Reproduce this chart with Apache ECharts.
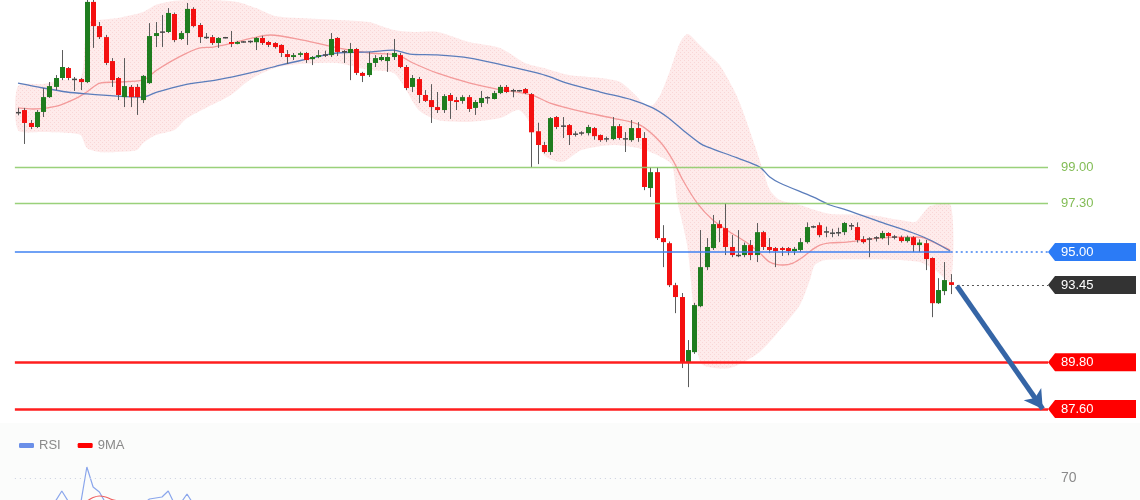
<!DOCTYPE html>
<html><head><meta charset="utf-8">
<script src="https://cdn.jsdelivr.net/npm/echarts@6/dist/echarts.min.js"></script>
<style>html,body{margin:0;padding:0;background:#fff}#c{width:1140px;height:500px}</style>
</head><body><div id="c"></div>
<script>
// candles: [open, close, low, high]
const ohlc = [
[101.60,101.55,101.45,101.80],[101.70,101.09,100.10,101.80],[101.09,100.90,100.80,101.23],[100.90,101.61,100.85,101.70],[101.61,102.31,101.37,102.74],
[102.31,102.83,102.27,103.02],[102.79,103.21,102.64,103.35],[103.21,103.73,103.11,104.53],[103.68,103.21,103.11,103.73],[103.17,103.12,102.60,103.26],
[103.16,103.02,102.64,103.21],[103.02,106.80,102.97,107.20],[106.80,105.66,104.63,107.10],[105.66,105.14,105.05,105.85],[105.14,103.92,103.82,105.24],
[104.01,103.11,102.79,104.15],[103.21,102.41,102.17,103.26],[102.31,102.83,101.84,104.15],[102.79,102.31,101.84,102.88],[102.79,102.31,101.47,102.92],
[102.17,103.31,102.03,103.35],[102.97,105.19,102.93,105.80],[105.19,105.33,104.67,105.85],[105.35,105.40,104.67,106.18],[105.38,106.28,105.33,106.51],
[106.23,105.00,104.90,106.30],[105.05,105.33,105.00,105.43],[105.33,106.47,104.77,106.75],[106.47,105.66,105.60,106.55],[105.71,105.14,104.86,105.80],
[105.14,105.10,105.05,105.33],[105.14,104.86,104.77,105.24],[104.86,105.10,104.63,105.14],[105.10,105.12,105.08,105.15],[104.91,104.82,104.67,105.43],
[104.82,104.91,104.80,104.96],[104.90,104.92,104.88,104.95],[104.92,104.94,104.85,104.98],[104.90,105.10,104.53,105.14],[105.10,104.86,104.77,105.20],
[104.91,104.77,104.67,104.96],[104.86,104.67,104.60,104.90],[104.77,104.39,104.20,104.80],[104.34,104.20,103.87,104.53],[104.20,104.29,104.06,104.39],
[104.30,104.38,104.20,104.45],[104.39,104.06,103.92,104.44],[104.10,104.20,103.82,104.25],[104.20,104.29,104.15,104.53],[104.29,104.30,104.20,104.50],
[104.29,105.05,104.20,105.33],[105.10,104.44,104.25,105.14],[104.44,104.46,103.92,104.53],[104.39,104.58,103.11,104.86],[104.58,103.45,103.35,104.63],
[103.45,103.31,103.02,103.50],[103.35,103.92,103.26,104.44],[103.92,104.15,103.73,104.29],[104.06,104.20,104.00,104.30],[104.01,104.20,103.50,104.39],
[104.20,104.39,104.06,105.05],[104.29,103.73,103.68,104.39],[103.73,102.74,102.64,103.82],[102.79,103.21,102.55,103.35],[103.16,102.41,102.03,103.26],
[102.41,102.13,102.08,102.64],[102.17,101.84,101.09,102.92],[101.84,101.70,101.56,102.55],[101.70,102.36,101.56,102.45],[102.41,102.13,101.28,102.50],
[102.17,102.08,101.70,102.31],[102.13,102.31,102.00,102.40],[102.31,101.75,101.61,102.41],[101.80,102.08,101.47,102.17],[102.03,102.27,101.84,102.60],
[102.27,102.29,102.00,102.35],[102.22,102.50,102.20,102.60],[102.50,102.79,102.45,102.88],[102.79,102.55,102.50,102.88],[102.60,102.62,102.30,102.70],
[102.60,102.62,102.57,102.65],[102.69,102.50,102.45,102.74],[102.45,100.65,99.00,102.50],[100.70,100.05,99.15,101.10],[100.05,99.72,99.65,100.20],
[99.72,101.32,99.58,101.37],[101.37,100.90,100.80,101.42],[100.95,100.93,100.38,101.37],[100.99,100.52,100.05,101.04],[100.57,100.55,100.45,100.70],
[100.60,100.63,100.50,100.70],[100.61,100.90,100.50,101.00],[100.85,100.47,100.30,100.90],[100.52,100.28,100.20,100.55],[100.35,100.33,100.20,100.45],
[100.33,100.94,100.28,101.37],[100.94,100.38,100.30,101.04],[100.35,100.33,99.72,100.66],[100.28,100.85,100.20,101.23],[100.85,100.38,100.20,101.13],
[100.38,98.07,97.92,100.66],[98.02,98.77,97.60,99.00],[98.77,95.66,95.57,99.00],[95.66,95.47,94.29,96.27],[95.42,93.44,93.35,95.50],
[93.44,92.88,92.12,93.55],[92.88,89.81,89.53,93.07],[89.81,90.38,88.63,90.85],[90.28,92.50,90.20,92.60],[92.45,94.29,92.40,96.04],
[94.29,95.24,94.15,95.66],[95.19,96.32,95.10,96.75],[96.32,96.13,95.47,96.50],[96.13,95.24,94.86,97.30],[95.24,94.86,94.76,95.80],
[94.86,94.82,94.76,96.04],[94.86,95.33,94.76,95.45],[95.33,94.86,94.62,95.57],[94.86,95.94,94.53,96.37],[95.94,95.24,95.10,96.00],
[95.24,95.10,94.95,95.66],[95.19,95.05,94.29,95.24],[95.19,95.10,94.82,95.25],[95.19,95.05,94.85,95.24],[95.05,95.15,94.86,95.24],
[95.10,95.47,95.00,95.66],[95.47,96.18,95.40,96.40],[96.18,96.20,96.13,96.25],[96.27,95.80,95.70,96.40],[95.96,95.94,95.70,96.20],
[95.90,95.88,95.70,96.10],[95.90,95.92,95.75,96.15],[95.94,96.37,95.80,96.42],[96.23,96.25,96.04,96.37],[96.18,95.57,95.45,96.40],
[95.61,95.47,95.40,95.75],[95.60,95.63,94.76,95.70],[95.66,95.68,95.50,95.75],[95.66,95.90,95.60,96.00],[95.90,95.75,95.33,95.94],
[95.70,95.72,95.60,95.80],[95.70,95.52,95.45,95.78],[95.52,95.70,95.45,95.78],[95.70,95.33,95.00,95.75],[95.33,95.45,95.00,95.60],
[95.42,94.67,94.15,95.57],[94.72,92.59,91.93,94.75],[92.59,93.21,92.55,93.77],[93.16,93.68,92.97,94.53],[93.58,93.45,93.02,93.96]
];

// Bollinger band edges and averages: [candle index, price]
const upperBand = [[0,102.83],[4,102.93],[7,103.12],[10,103.21],[10.7,105.0],[11,105.85],[13,105.95],[16,106.04],[20,106.32],[22,106.65],[25,106.85],[30,106.89],[35,106.80],[38,106.51],[41,106.14],[45,106.04],[51,105.95],[56,105.85],[60,105.47],[63,105.38],[67,105.38],[72,104.91],[77,104.63],[81,103.92],[84,103.68],[88,103.35],[93,103.21],[96.2,103.02],[98.6,102.41],[100.2,101.94],[101.4,101.94],[102.6,102.41],[104.2,103.59],[105.8,104.91],[107,105.29],[108.9,104.77],[110.5,104.30],[112.1,103.82],[114.9,102.31],[117.4,100.29],[119,98.87],[120.1,97.93],[121.7,97.46],[124.9,97.22],[127.3,96.98],[129.7,96.80],[136,96.75],[140.9,96.51],[143.3,96.42],[144.4,96.75],[145.7,97.17],[149,97.22]];
const lowerBand = [[0,100.76],[4,100.66],[8,100.62],[10,100.52],[11,99.91],[13,99.72],[16,99.72],[19,99.81],[20,100.14],[22,100.52],[25,100.76],[27,101.32],[30,101.80],[34,102.41],[37,103.12],[41,103.68],[45,103.87],[51,103.92],[56,103.59],[60,103.45],[62,102.64],[64,101.70],[67,101.23],[72,101.14],[77,101.32],[80,101.70],[82,100.99],[84,99.58],[87,99.25],[90,99.81],[95,100.05],[99,99.91],[101,99.72],[103,99.44],[104.5,99.11],[105.3,97.46],[106.9,95.33],[107.7,92.97],[108.5,90.38],[109.4,89.67],[113.7,89.53],[118.5,90.29],[121.7,91.32],[124.9,92.50],[126.5,93.68],[127.3,94.39],[129,94.63],[140,94.63],[144,94.53],[146.5,94.15],[149,93.59]];
const midLine = [[0,101.80],[2.4,101.75],[6.2,101.89],[9.4,102.27],[11,102.55],[13.1,102.97],[15.8,103.02],[20,103.12],[22.2,103.59],[25.4,104.15],[29.1,104.63],[31.2,104.67],[34.3,104.86],[37.5,105.10],[40.3,105.24],[45.5,105.00],[51,104.63],[56.2,104.39],[60.5,104.30],[63.1,103.92],[66.9,103.45],[72.2,102.97],[76.5,102.69],[82,102.41],[85,102.03],[90.3,101.61],[95,101.32],[99.4,100.99],[102.6,100.19],[104.6,99.34],[106.2,98.40],[108.5,97.31],[111,96.51],[113.7,95.95],[116.5,95.43],[118.5,94.96],[120.1,94.53],[122.2,94.39],[123.8,94.48],[125.4,94.77],[127,95.14],[128.1,95.33],[129.7,95.43],[132.4,95.47],[135,95.57],[137.7,95.66],[140.4,95.71],[144.1,95.71],[146.2,95.47],[148.9,95.10]];
const slowLine = [[0,102.97],[4,102.74],[7.8,102.55],[11,102.46],[15.8,102.36],[20,102.31],[22.2,102.55],[26.4,102.88],[31.8,103.12],[37.1,103.45],[41.9,103.82],[45.5,104.06],[51,104.39],[56.2,104.44],[59.9,104.53],[62.6,104.34],[66.9,104.30],[72.2,104.15],[77.5,103.82],[82.9,103.45],[85,103.26],[87.7,102.97],[93,102.55],[98.2,102.17],[101.4,101.80],[103.7,101.37],[106.2,100.76],[108.9,100.14],[110.1,99.96],[114.9,99.44],[118.5,99.01],[120.1,98.54],[121.7,98.26],[127,97.60],[129.7,97.22],[132.4,96.98],[137.7,96.42],[143,95.90],[145.7,95.57],[148.9,95.05]];

// RSI panel
const rsi = [45,38,36,42,46,47,47,57,47,45,44,81,61,56,45,42,38,41,39,39,44,49,50,51,57,44,45,54,44,42,
42,41,43,43,41,42,42,42,44,42,41,40,38,37,38,38,36,37,38,38,45,40,40,41,34,33,39,41,41,42,
43,38,32,36,32,31,30,29,34,33,33,35,31,34,36,36,38,40,38,38,38,37,27,25,24,34,32,32,30,30,
31,33,30,29,29,34,31,31,35,32,23,27,18,18,14,13,10,16,25,33,38,43,42,38,36,36,39,36,42,39,
38,38,38,37,38,40,45,45,42,42,42,42,45,45,40,39,39,40,41,40,40,39,40,37,38,33,24,28,32,31];
const rsiMa = [45,44,43,42,42,42,42,43,44,44,45,47,50.5,52,51,48.5,47,46,46,45,44,44,45,46,47,47,46,46,46,45,
44,44,43,43,43,42,42,42,42,42,42,42,41,41,40,40,39,39,38,38,39,39,39,39,39,38,38,38,39,39,
40,40,39,38,37,36,35,34,33,33,33,33,33,33,33,34,35,35,36,37,37,36,35,34,33,32,32,31,31,31,
31,31,31,31,31,31,31,31,32,32,31,30,28,26,24,22,19,17,17,18,21,25,29,32,34,36,38,38,39,39,
39,39,39,39,39,39,40,41,41,41,41,41,42,42,42,42,42,42,41,41,40,40,40,40,39,38,37,36,35,34];

// levels
const supportLevels = [89.80, 87.60];
const targetLevels = [99.00, 97.30];
const pivotLevel = 95.00;
const lastPrice = 93.45;
const rsiLevel = 70;
const arrowFrom = [150.0, 93.40];
const arrowTo = [163.7, 87.60];

const N = ohlc.length;
const XMAX = 164.54;
const YMIN = 87.08, YMAX = 106.89;
const GREEN = '#1f7d1f', RED = '#f41010';
const FONT = 'Liberation Sans, Arial, sans-serif';

const chart = echarts.init(document.getElementById('c'), null, {renderer:'canvas'});

// dotted pink texture for the band
const pat = document.createElement('canvas');
pat.width = 4; pat.height = 4;
(function(){const g = pat.getContext('2d'); g.fillStyle = '#feebeb'; g.fillRect(0,0,4,4); g.fillStyle = '#f9d6d6'; g.fillRect(0,0,1,1); g.fillRect(2,2,1,1);})();

const tagPath = 'path://M0,9 L7,0 L88,0 L88,18 L7,18 Z';
function tag(v, color){
  return {value:[XMAX, v], itemStyle:{color, opacity:1}, label:{formatter: v.toFixed(2)}};
}

chart.setOption({
  animation:false,
  backgroundColor:'#ffffff',
  grid:[
    {left:14.87, right:92, top:0, height:420},
    {left:14.87, right:92, top:448, bottom:0},
    {left:0, right:0, top:423, bottom:0, show:true, backgroundColor:'#fbfcfb', borderWidth:0}
  ],
  xAxis:[
    {type:'value', gridIndex:0, min:-0.5, max:XMAX, show:false},
    {type:'value', gridIndex:1, min:-0.5, max:XMAX, show:false},
    {type:'value', gridIndex:2, min:0, max:1, position:'top', axisLine:{show:true, lineStyle:{color:'#ead6d6', type:'dotted', width:1}}, axisTick:{show:false}, axisLabel:{show:false}, splitLine:{show:false}}
  ],
  yAxis:[
    {type:'value', gridIndex:0, min:YMIN, max:YMAX, show:false},
    {type:'value', gridIndex:1, min:48, max:100, show:false},
    {type:'value', gridIndex:2, min:0, max:1, show:false}
  ],
  legend:{
    data:['RSI','9MA'], left:14, top:434, icon:'roundRect', itemWidth:15, itemHeight:5, itemGap:17,
    textStyle:{color:'#8a8a8a', fontSize:13, fontFamily:FONT}
  },
  series:[
    {type:'custom', xAxisIndex:0, yAxisIndex:0, silent:true, z:1, data:[[0,100]],
      renderItem:function(params, api){
        const pts = [];
        upperBand.forEach(p=>pts.push(api.coord(p)));
        lowerBand.slice().reverse().forEach(p=>pts.push(api.coord(p)));
        return {type:'polygon', shape:{points:pts, smooth:0.25}, style:{fill:{image:pat, repeat:'repeat'}}};
      }},
    {type:'line', xAxisIndex:0, yAxisIndex:0, data:midLine, smooth:0.3, showSymbol:false, silent:true, z:2,
      lineStyle:{color:'#f39a9a', width:1.3}},
    {type:'line', xAxisIndex:0, yAxisIndex:0, data:slowLine, smooth:0.3, showSymbol:false, silent:true, z:2,
      lineStyle:{color:'#5b7dbb', width:1.3}},
    {type:'custom', xAxisIndex:0, yAxisIndex:0, silent:true, z:3,
      data: ohlc.map((d,i)=>[i, d[0], d[1], d[2], d[3]]),
      encode:{x:0, y:[1,2,3,4]},
      renderItem:function(params, api){
        const i = api.value(0), o = api.value(1), c = api.value(2), l = api.value(3), h = api.value(4);
        const pO = api.coord([i,o]), pC = api.coord([i,c]), pL = api.coord([i,l]), pH = api.coord([i,h]);
        const x = Math.round(pO[0]) + 0.5;
        let top = Math.min(pO[1], pC[1]), bot = Math.max(pO[1], pC[1]);
        let bh = bot - top;
        let fill = c >= o ? GREEN : RED;
        if (bh < 1.5) { fill = '#4a4a4a'; top = (top+bot)/2 - 0.75; bh = 1.5; }
        return {type:'group', children:[
          {type:'line', shape:{x1:x, y1:pH[1], x2:x, y2:pL[1]}, style:{stroke:'#5c5c5c', lineWidth:1}},
          {type:'rect', shape:{x:x-2.5, y:top, width:5, height:bh}, style:{fill:fill}}
        ]};
      }},
    {type:'line', xAxisIndex:0, yAxisIndex:0, data:[], silent:true, z:5,
      markLine:{silent:true, symbol:'none', animation:false,
        data:[
          ...targetLevels.map(v=>({yAxis:v, lineStyle:{color:'#8fcc6c', width:1.3, type:'solid', opacity:0.9},
            label:{show:true, position:'end', distance:13, formatter:v.toFixed(2), color:'#74b543', fontSize:13, fontFamily:FONT}})),
          [{coord:[-0.5, pivotLevel], lineStyle:{color:'#3f82f2', width:1.5, type:'solid'}, label:{show:false}}, {coord:[N-1, pivotLevel]}],
          [{coord:[N-1, pivotLevel], lineStyle:{color:'#3f82f2', width:1.5, type:[2,3]}, label:{show:false}}, {coord:[XMAX, pivotLevel]}],
          [{coord:[N, lastPrice], lineStyle:{color:'#555555', width:1, type:[2,3]}, label:{show:false}}, {coord:[XMAX, lastPrice]}],
          ...supportLevels.map(v=>({yAxis:v, lineStyle:{color:'#ff1e1e', width:2.5, type:'solid'}, label:{show:false}}))
        ]}},
    {type:'line', xAxisIndex:0, yAxisIndex:0, data:[], silent:true, z:6,
      markLine:{silent:true, symbol:['none','arrow'], symbolSize:[16,18], animation:false,
        lineStyle:{color:'#3565a6', width:5, type:'solid'}, label:{show:false},
        data:[[{coord:arrowFrom}, {coord:arrowTo}]]}},
    {type:'scatter', xAxisIndex:0, yAxisIndex:0, silent:true, z:7,
      symbol:tagPath, symbolSize:[88,18], symbolOffset:[44,0],
      itemStyle:{opacity:1},
      label:{show:true, position:'insideLeft', distance:13, color:'#ffffff', fontSize:13, fontFamily:FONT},
      data:[tag(pivotLevel,'#2b7bf6'), tag(lastPrice,'#333333'), tag(supportLevels[0],'#ff0000'), tag(supportLevels[1],'#ff0000')]},
    {name:'RSI', type:'line', xAxisIndex:1, yAxisIndex:1, data:rsi.map((v,i)=>[i,v]), showSymbol:false, silent:true, clip:true,
      itemStyle:{color:'#6a8fe8'}, lineStyle:{color:'#8aa6ec', width:1.2},
      markLine:{silent:true, symbol:'none', animation:false,
        data:[{yAxis:rsiLevel, lineStyle:{color:'#c9cfe0', width:1, type:[1,4]},
          label:{show:true, position:'end', distance:13, formatter:String(rsiLevel), color:'#8a8a8a', fontSize:14, fontFamily:FONT}}]}},
    {name:'9MA', type:'line', xAxisIndex:1, yAxisIndex:1, data:rsiMa.map((v,i)=>[i,v]), showSymbol:false, silent:true, smooth:0.4, clip:true,
      itemStyle:{color:'#ff0000'}, lineStyle:{color:'#f06060', width:1.2}}
  ]
});
</script></body></html>
